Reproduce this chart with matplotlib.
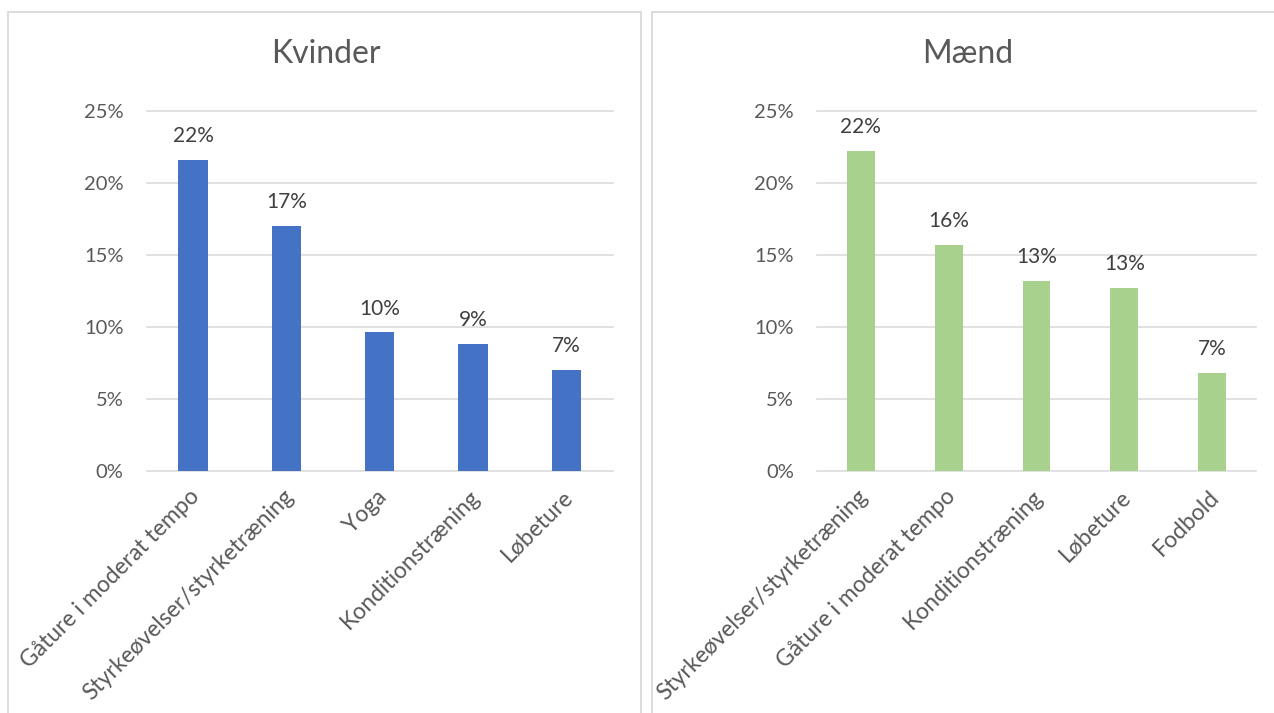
import matplotlib.pyplot as plt
import matplotlib.transforms as mtransforms
from matplotlib.patches import Rectangle
from matplotlib.ticker import PercentFormatter

plt.rcParams['font.family'] = ['Lato', 'DejaVu Sans']

# andel der dyrker aktiviteten
kvinder_aktiviteter = ["Gåture i moderat tempo", "Styrkeøvelser/styrketræning",
                       "Yoga", "Konditionstræning", "Løbeture"]
kvinder_andel = [0.216, 0.170, 0.096, 0.088, 0.070]

maend_aktiviteter = ["Styrkeøvelser/styrketræning", "Gåture i moderat tempo",
                     "Konditionstræning", "Løbeture", "Fodbold"]
maend_andel = [0.222, 0.157, 0.132, 0.127, 0.068]

y_ticks = [0, 0.05, 0.10, 0.15, 0.20, 0.25]

W, H = 1274, 713
TXT = '#595959'
GRID = '#D9D9D9'

fig = plt.figure(figsize=(W / 100, H / 100), dpi=100)

# rammer om de to diagrammer
for x0, x1 in [(7.5, 641.5), (651.5, 1300)]:
    fig.patches.append(Rectangle((x0 / W, -0.1), (x1 - x0) / W, 1.1 - 12 / H,
                                 transform=fig.transFigure, fill=False,
                                 edgecolor=GRID, lw=1.3))


def tegn_panel(rect, titel, titel_x, navne, andel, farve):
    ax = fig.add_axes(rect)
    x = range(len(navne))
    bars = ax.bar(x, andel, width=0.315, color=farve, zorder=2)
    ax.set_xlim(-0.5, len(navne) - 0.5)
    ax.set_ylim(0, 0.25)
    ax.set_yticks(y_ticks)
    ax.yaxis.set_major_formatter(PercentFormatter(1.0, decimals=0))
    ax.set_xticks(list(x))
    ax.set_xticklabels(navne, rotation=45, ha='right', rotation_mode='anchor')
    ax.tick_params(axis='both', length=0, labelcolor=TXT)
    ax.tick_params(axis='y', pad=16.5, labelsize=14.5)
    ax.tick_params(axis='x', pad=11, labelsize=16.5)
    # etiketterne lidt til venstre, så de ender under søjlen
    skub = mtransforms.ScaledTranslation(-0.04, 0, fig.dpi_scale_trans)
    for lbl in ax.get_xticklabels():
        lbl.set_transform(lbl.get_transform() + skub)
    ax.yaxis.grid(True, color=GRID, lw=1.1)
    for gl in ax.get_ygridlines():
        gl.set_clip_on(False)
    for s in ax.spines.values():
        s.set_visible(False)
    for b, v in zip(bars, andel):
        ax.annotate(f"{v:.0%}", (b.get_x() + b.get_width() / 2, v),
                    xytext=(0, 12.7), textcoords='offset points',
                    ha='center', va='baseline', fontsize=15, color='#404040')
    fig.text(titel_x / W, 1 - 63.3 / H, titel, ha='center', va='baseline',
             fontsize=23, color=TXT)
    return ax


bund = 1 - 470.7 / H
hoejde = 360 / H
tegn_panel([146.5 / W, bund, 466.5 / W, hoejde], "Kvinder", 325.5,
           kvinder_aktiviteter, kvinder_andel, '#4472C4')
tegn_panel([817 / W, bund, 439 / W, hoejde], "Mænd", 968,
           maend_aktiviteter, maend_andel, '#A9D18E')

fig.savefig('out.png', dpi=100, facecolor='white')
